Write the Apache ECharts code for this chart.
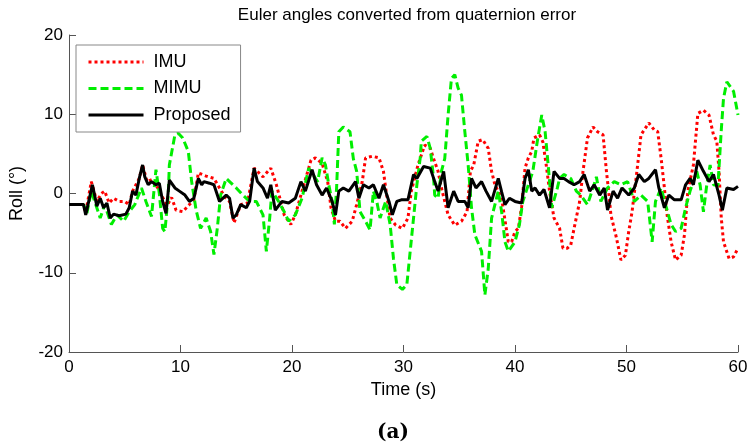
<!DOCTYPE html>
<html>
<head>
<meta charset="utf-8">
<script src="https://cdn.jsdelivr.net/npm/echarts@6/dist/echarts.min.js"></script>
<style>html,body{margin:0;padding:0;background:#fff;}#c{width:751px;height:447px;}</style>
</head>
<body>
<div id="c"></div>
<script>
const seriesNames = ['IMU', 'MIMU', 'Proposed'];
const xTicks = [0, 10, 20, 30, 40, 50, 60];
const yTicks = [-20, -10, 0, 10, 20];

const propT = [0,1.3,1.5,2.1,2.5,2.8,3.1,3.4,3.7,4.0,4.5,5.1,5.4,5.7,6.0,6.3,6.6,6.8,7.1,7.4,7.8,8.1,8.4,8.7,9.0,9.5,9.9,10.4,10.8,11.2,11.6,11.9,12.1,12.6,13.0,13.5,14.1,14.4,14.7,15.0,15.4,15.9,16.2,16.6,16.9,17.4,17.8,18.1,18.5,19.1,19.7,20.3,20.8,21.2,21.8,22.2,22.7,23.1,23.6,23.9,24.2,24.6,25.1,25.7,26.0,26.4,26.9,27.3,27.8,28.2,28.7,29.0,29.4,29.8,30.4,30.9,31.2,31.8,32.4,32.8,33.1,33.6,34.0,34.5,34.9,35.5,35.8,36.1,36.5,37.0,37.4,37.9,38.5,38.8,39.1,39.5,40.0,40.6,40.9,41.2,41.5,41.8,42.2,42.6,43.1,43.5,44.0,44.4,44.8,45.3,45.8,46.2,46.7,47.1,47.6,48.0,48.3,48.8,49.2,49.6,50.2,50.7,51.1,51.6,52.0,52.6,52.9,53.4,53.8,54.3,54.9,55.3,55.7,56.0,56.4,56.9,57.4,57.8,58.3,58.6,59.0,59.6,60.0];
const propV = [-1.4,-1.4,-2.7,1.1,-1.6,-0.6,-1.8,-1.2,-3.1,-2.6,-2.8,-2.6,-1.8,0.3,-0.2,1.9,3.6,2.1,1.1,1.5,1.1,1.3,-1.0,-2.5,1.7,0.7,0.3,-0.2,-1.0,-0.6,1.9,1.1,1.5,1.3,1.1,-1.0,-0.2,-0.6,-3.1,-2.7,-1.4,-1.8,-1.0,3.2,1.5,0.7,-0.6,1.1,-2.1,-1.0,-1.2,-0.6,1.5,0.3,3.0,1.1,-0.2,0.7,-1.0,-2.7,0.3,0.7,0.3,1.5,-0.6,1.1,0.7,1.1,-0.6,1.1,-1.0,-2.7,-1.0,-0.8,-0.8,2.4,1.9,3.4,3.2,1.5,0.3,2.8,-1.8,0.3,-1.0,-1.0,-1.8,1.9,0.7,1.5,0.3,-1.0,1.9,0.2,-1.4,-0.6,-1.0,-1.2,1.9,3.0,0.3,0.7,-0.2,0.5,-1.8,2.8,1.9,1.9,1.5,1.1,1.5,2.4,0.3,1.1,-0.2,0.7,-2.1,0.3,-0.6,0.7,-0.2,0.7,2.4,1.5,1.9,3.0,0.7,-1.8,-0.2,-0.8,-0.8,1.1,1.9,1.1,4.2,2.8,1.5,2.4,-0.2,-2.1,0.7,0.5,0.9];

const imuT = [0,1.3,1.5,2.0,2.5,2.9,3.2,3.6,4.0,4.5,5.0,5.4,5.7,6.3,6.6,7.0,7.5,8.0,8.4,8.8,9.2,9.6,10.2,10.8,11.2,11.6,12.3,13.0,13.5,14.0,14.4,14.8,15.4,16.0,16.6,17.4,18.1,18.6,19.3,19.9,20.3,20.9,21.5,21.7,22.1,22.7,23.2,23.5,23.9,24.3,24.8,25.4,25.8,26.3,26.6,27.2,27.8,28.2,28.4,28.8,29.3,29.9,30.4,30.7,31.3,31.9,32.4,32.7,33.1,33.4,34.0,34.6,35.2,35.7,36.0,36.3,36.7,37.1,37.6,37.9,38.2,38.8,39.4,39.7,40.0,40.3,40.6,40.9,41.2,41.5,41.7,42.2,42.5,42.8,43.1,43.5,44.0,44.3,44.7,45.0,45.3,45.8,46.1,46.5,47.0,47.4,47.9,48.2,48.4,48.6,49.1,49.5,49.9,50.2,50.5,51.0,51.3,52.0,52.5,52.8,53.1,53.4,53.6,54.0,54.4,54.9,55.2,55.5,56.0,56.4,56.9,57.4,57.8,58.1,58.3,58.5,58.7,59.2,59.6,60.0];
const imuV = [-1.4,-1.4,-2.4,1.5,-1.0,0.0,0.3,-1.2,-0.6,-1.0,-1.0,-1.4,0.3,1.9,3.6,1.5,1.8,0.6,-0.5,-1.5,-0.5,-2.1,-2.3,-1.4,-0.8,2.6,2.2,1.9,0.7,-0.5,-1.0,-3.7,-1.4,-1.2,3.2,2.1,3.2,1.1,-2.7,-3.9,-2.7,0.3,3.2,4.2,4.5,3.8,1.5,-1.8,-3.5,-3.5,-4.4,-3.5,-1.4,1.5,4.5,4.7,4.5,2.8,0.7,-3.1,-4.0,-4.4,-3.1,0.3,3.6,6.1,5.7,4.4,2.8,0.7,-2.7,-4.0,-3.5,-2.3,2.8,3.6,6.6,6.8,5.7,2.8,1.1,-0.6,-6.1,-6.1,-4.8,-4.4,-1.6,3.2,4.5,5.3,7.0,7.4,6.5,3.6,0.3,-3.1,-4.4,-6.9,-6.9,-6.5,-4.4,-1.0,2.8,7.0,8.4,7.8,7.4,2.8,0.3,-2.7,-5.6,-8.4,-7.8,-4.8,-2.3,3.6,7.4,8.9,8.0,7.8,4.5,0.7,-2.3,-6.1,-8.4,-7.8,-5.2,0.3,3.6,10.1,10.5,9.9,7.4,6.6,2.8,-3.1,-6.1,-8.2,-8.0,-6.9];

const mimuT = [0,1.3,1.6,2.0,2.8,3.2,3.8,4.3,4.9,5.4,5.9,6.5,6.9,7.4,7.8,8.1,8.4,8.6,8.9,9.0,9.5,9.8,10.2,10.7,11.0,11.4,11.8,12.3,12.7,13.0,13.3,13.6,14.1,14.4,15.0,15.6,16.2,16.8,17.4,17.7,18.0,18.2,18.8,19.3,19.7,20.3,20.9,21.5,22.3,22.7,23.0,23.3,23.6,23.8,24.0,24.2,24.6,25.2,25.5,25.8,26.1,26.6,27.0,27.3,27.6,27.9,28.4,28.8,29.1,29.4,29.9,30.3,30.6,30.9,31.2,31.5,31.6,32.1,32.4,32.7,32.8,33.1,33.4,33.7,34.0,34.3,34.6,34.9,35.2,35.5,35.8,36.1,36.4,37.0,37.3,37.6,37.9,38.5,38.8,39.1,39.4,40.0,40.4,40.7,41.2,41.6,42.0,42.4,42.7,43.0,43.3,43.8,44.0,44.4,45.0,45.5,45.9,46.5,47.0,47.3,47.7,48.3,48.9,49.5,50.1,50.7,51.3,51.9,52.3,52.6,53.1,53.5,54.0,54.4,54.9,55.3,55.7,56.3,56.6,56.9,57.2,57.5,57.8,58.2,58.5,58.7,59.0,59.6,60.0];
const mimuV = [-1.4,-1.4,-2.5,0.3,-3.1,-1.4,-3.9,-2.7,-3.5,-2.3,-1.4,0.7,-1.0,-2.9,3.0,0.0,-4.4,-4.8,-0.2,3.6,7.4,7.6,7.0,5.3,1.5,-2.1,-4.4,-3.1,-4.8,-7.7,-4.4,-0.2,1.9,1.5,0.7,-0.2,-1.0,-1.0,-2.7,-7.3,-3.1,0.3,-1.0,-2.3,-3.5,-2.7,-0.6,3.2,1.5,4.5,3.6,1.1,-1.0,-3.9,0.7,7.8,8.4,7.8,4.4,2.8,-2.3,-3.5,-4.6,0.3,-1.0,-3.1,-1.0,-3.9,-8.2,-11.5,-12.1,-11.5,-7.3,-3.1,1.1,4.5,6.6,7.2,5.7,1.9,-0.2,-0.6,2.8,4.4,9.9,14.5,15.0,13.3,12.4,7.8,3.6,-1.8,-5.2,-7.3,-12.8,-9.5,-3.1,0.3,-2.3,-6.1,-7.3,-6.1,-3.9,-1.0,1.1,2.8,6.6,9.9,7.8,3.2,-1.8,0.7,1.9,2.4,1.9,0.3,-0.2,-1.4,0.7,2.1,-1.0,0.7,1.5,1.1,1.5,-1.0,-0.2,-1.0,-6.1,-1.0,0.7,-1.4,-3.9,-4.8,-4.4,-1.8,0.3,2.8,1.1,-2.3,1.1,3.6,1.1,1.0,8.0,12.0,14.1,12.9,9.9];

const zip = (t, v) => t.map((x, i) => [x, v[i]]);
const FONT = 'Liberation Sans, Arial, Helvetica, sans-serif';
const CLEAR = 'rgba(0,0,0,0)';

const chart = echarts.init(document.getElementById('c'), null, {renderer: 'canvas'});
const axisCommon = {
  axisLine: {show: true, onZero: false, lineStyle: {color: '#555', width: 1}},
  axisTick: {show: true, inside: true, length: 7, lineStyle: {color: '#555'}},
  splitLine: {show: false},
  nameTextStyle: {color: '#000', fontSize: 18, fontFamily: FONT}
};
chart.setOption({
  animation: false,
  backgroundColor: '#fff',
  title: [
    {text: 'Euler angles converted from quaternion error', left: 402, top: 2, textAlign: 'center',
     textStyle: {fontSize: 17, fontWeight: 'normal', color: '#000', fontFamily: FONT}},
    {text: '(a)', left: 388, top: 418, textAlign: 'center',
     textStyle: {fontSize: 20, fontWeight: 'bold', color: '#000', fontFamily: 'DejaVu Serif, Liberation Serif, serif'}}
  ],
  grid: {left: 66, right: 13, top: 35, bottom: 95, containLabel: false},
  legend: {
    data: seriesNames, orient: 'vertical', left: 76, top: 45,
    padding: [8, 10, 8, 11], itemGap: 8.5, itemWidth: 55, itemHeight: 18,
    backgroundColor: '#fff', borderColor: '#888', borderWidth: 1, borderRadius: 0,
    textStyle: {fontSize: 18, color: '#000', fontFamily: FONT, padding: [0, 0, 0, 5]},
    itemStyle: {color: CLEAR, borderColor: CLEAR, borderWidth: 0},
    lineStyle: {width: 3}
  },
  xAxis: Object.assign({}, axisCommon, {
    type: 'value', min: xTicks[0], max: xTicks[xTicks.length - 1], interval: 10,
    name: 'Time (s)', nameLocation: 'middle', nameGap: 29,
    axisLabel: {color: '#000', fontSize: 17, fontFamily: FONT, margin: 7}
  }),
  yAxis: Object.assign({}, axisCommon, {
    type: 'value', min: yTicks[0], max: yTicks[yTicks.length - 1], interval: 10,
    name: 'Roll (°)', nameLocation: 'middle', nameGap: 43,
    axisLabel: {color: '#000', fontSize: 17, fontFamily: FONT, margin: 6}
  }),
  series: [
    {name: seriesNames[0], type: 'line', data: zip(imuT, imuV), showSymbol: false, symbol: 'none', z: 2,
     lineStyle: {color: '#ff0000', width: 3, type: [3, 3]}, itemStyle: {color: CLEAR}},
    {name: seriesNames[1], type: 'line', data: zip(mimuT, mimuV), showSymbol: false, symbol: 'none', z: 3,
     lineStyle: {color: '#00ee00', width: 3, type: [8, 4]}, itemStyle: {color: CLEAR}},
    {name: seriesNames[2], type: 'line', data: zip(propT, propV), showSymbol: false, symbol: 'none', z: 4,
     lineStyle: {color: '#000', width: 3}, itemStyle: {color: CLEAR}}
  ]
});
</script>
</body>
</html>
